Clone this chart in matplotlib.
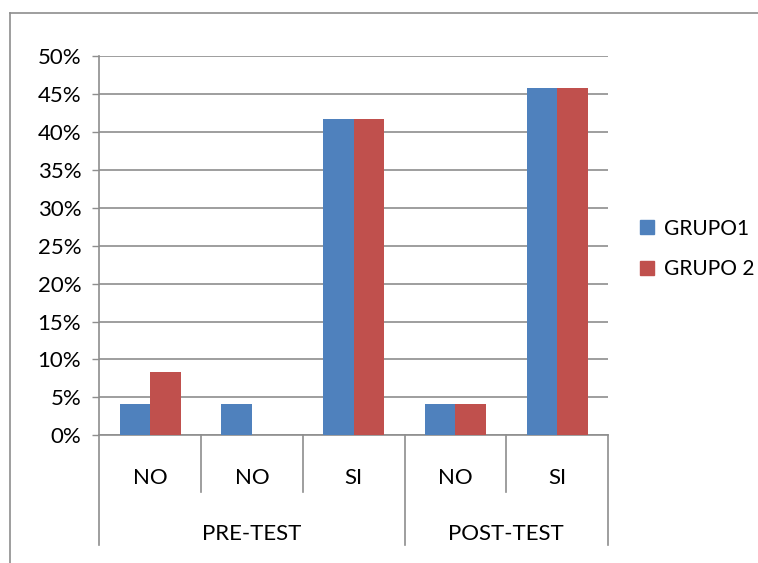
import matplotlib
matplotlib.use("Agg")
import matplotlib.pyplot as plt
from matplotlib.patches import Patch
from matplotlib.lines import Line2D
from matplotlib.ticker import PercentFormatter

plt.rcParams['font.family'] = ['Lato', 'DejaVu Sans']

# data (percent)
categories = ["NO", "NO", "SI", "NO", "SI"]
groups = ["PRE-TEST", "POST-TEST"]
group_sizes = [3, 2]
grupo1 = [4.17, 4.17, 41.67, 4.17, 45.83]
grupo2 = [8.33, 0.0, 41.67, 4.17, 45.83]
series_names = ["GRUPO1", "GRUPO 2"]

W, H = 758, 563
fig = plt.figure(figsize=(W / 100, H / 100), dpi=100)

# plot area in pixels
left, right, top, bottom = 99.3, 608, 56, 435.3
ax = fig.add_axes([left / W, 1 - bottom / H, (right - left) / W, (bottom - top) / H])

blue = "#4F81BD"
red = "#C0504D"
grid_c = "#8e8e8e"
fs = 16

x = range(len(categories))
bw = 0.3
ax.bar([i - bw / 2 for i in x], grupo1, bw, color=blue, zorder=3)
ax.bar([i + bw / 2 for i in x], grupo2, bw, color=red, zorder=3)

ax.set_xlim(-0.5, len(categories) - 0.5)
ax.set_ylim(0, 50)
ax.set_yticks(range(0, 51, 5))
ax.yaxis.set_major_formatter(PercentFormatter(decimals=0))
ax.yaxis.grid(True, color=grid_c, lw=1.2, zorder=0)
ax.tick_params(axis="y", length=5, width=1, color=grid_c, labelsize=fs, pad=8)
ax.tick_params(axis="x", bottom=False, labelbottom=False)
for s in ["top", "right"]:
    ax.spines[s].set_visible(False)
for s in ["left", "bottom"]:
    ax.spines[s].set_color(grid_c)
    ax.spines[s].set_linewidth(1.2)

# multi-level category axis
tr = ax.get_xaxis_transform()
ph = bottom - top
inner_y = -(492 - bottom) / ph
outer_y = -(545 - bottom) / ph
lab_y = -(478.5 - bottom) / ph
grp_y = -(534 - bottom) / ph

bounds = [-0.5]
for n in group_sizes:
    bounds.append(bounds[-1] + n)
for i in range(len(categories) + 1):
    xb = i - 0.5
    yb = outer_y if xb in bounds else inner_y
    ax.add_line(Line2D([xb, xb], [0, yb], transform=tr, color=grid_c, lw=1.2, clip_on=False))
for i, c in enumerate(categories):
    ax.text(i, lab_y, c, transform=tr, ha="center", va="center", fontsize=fs)
for g, a, b in zip(groups, bounds[:-1], bounds[1:]):
    ax.text((a + b) / 2, grp_y, g, transform=tr, ha="center", va="center", fontsize=fs)

# legend
handles = [Patch(color=blue), Patch(color=red)]
fig.legend(handles, series_names, loc="center left", bbox_to_anchor=(640 / W, 1 - 249 / H),
           frameon=False, fontsize=15, handlelength=0.66, handleheight=0.66,
           handletextpad=0.5, labelspacing=1.0, borderpad=0, borderaxespad=0)

# chart area border
fig.add_artist(Line2D([10 / W, 10 / W], [0, 1 - 13 / H], transform=fig.transFigure, color=grid_c, lw=1.2))
fig.add_artist(Line2D([10 / W, 1], [1 - 13 / H, 1 - 13 / H], transform=fig.transFigure, color=grid_c, lw=1.2))

fig.savefig("out.png", dpi=100)
